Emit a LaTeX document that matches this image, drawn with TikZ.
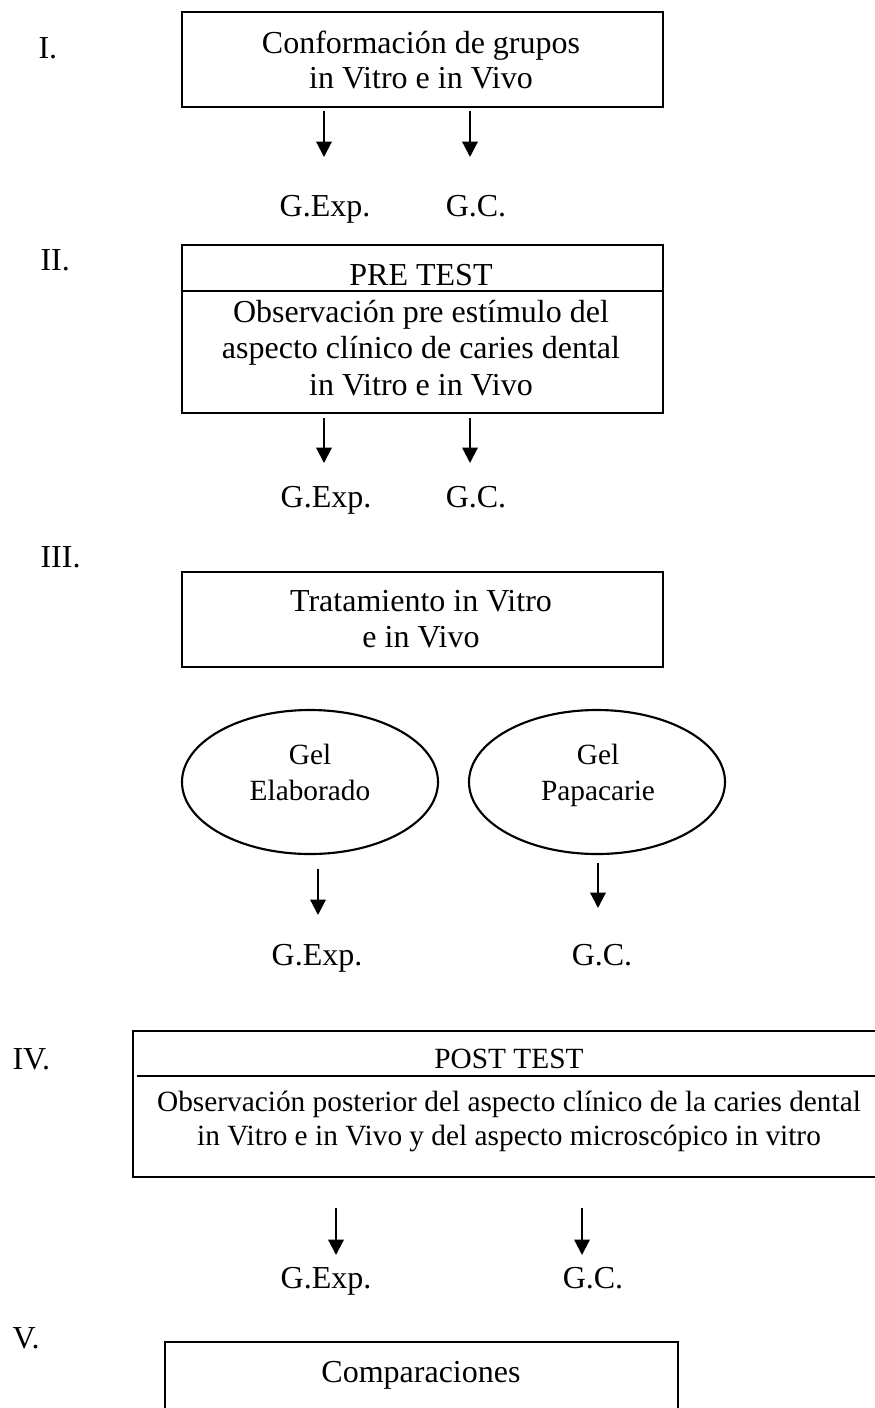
\documentclass[tikz,border=0pt]{standalone}
\usepackage{fontspec}
\setmainfont{Liberation Serif}
\usetikzlibrary{arrows.meta,shapes.geometric,fit,calc}
\begin{document}
\begin{tikzpicture}[x=0.375pt,y=-0.375pt,
  txt/.style={anchor=base,inner sep=0pt,font=\fontsize{12pt}{13.5pt}\selectfont},
  numst/.style={anchor=base west,inner sep=0pt,font=\fontsize{12pt}{13.5pt}\selectfont},
  stxt/.style={anchor=base,inner sep=0pt,font=\fontsize{11pt}{13.5pt}\selectfont},
  boxst/.style={draw,line width=0.8pt,inner sep=0pt,rectangle},
  ovalst/.style={draw,line width=0.8pt,ellipse,inner sep=0pt,minimum width=96pt,minimum height=54pt},
  arr/.style={line width=0.8pt,-{Triangle[width=5.8pt,length=5.8pt]}}]
\clip (0,0) rectangle (875,1408);
\fill[white] (0,0) rectangle (875,1408);

% numerals
\node[numst] (n1) at (38,58) {I.};
\node[numst] (n2) at (40,270) {II.};
\node[numst] (n3) at (40,567) {III.};
\node[numst] (n4) at (12,1069) {IV.};
\node[numst] (n5) at (12,1348) {V.};

% stage I
\node[boxst,fit={(182,12) (663,107)}] (b1) {};
\node[txt] (b1l1) at (421,53) {Conformación de grupos};
\node[txt] (b1l2) at (421,88) {in Vitro e in Vivo};
\node[txt] (g1e) at (325,216) {G.Exp.};
\node[txt] (g1c) at (476,216) {G.C.};
\coordinate (t1) at (324,157);
\coordinate (t2) at (470,157);
\draw[arr,shorten <=1pt] (b1.south -| t1) -- (t1);
\draw[arr,shorten <=1pt] (b1.south -| t2) -- (t2);

% stage II
\node[boxst,fit={(182,245) (663,413)}] (b2) {};
\draw[line width=0.8pt] ($(b2.north west)+(0,47)$) -- ($(b2.north east)+(0,47)$);
\node[txt] (b2h) at (421,285) {PRE TEST};
\node[txt] (b2l1) at (421,322) {Observación pre estímulo del};
\node[txt] (b2l2) at (421,358) {aspecto clínico de caries dental};
\node[txt] (b2l3) at (421,395) {in Vitro e in Vivo};
\node[txt] (g2e) at (326,507) {G.Exp.};
\node[txt] (g2c) at (476,507) {G.C.};
\coordinate (t3) at (324,463);
\coordinate (t4) at (470,463);
\draw[arr,shorten <=1.5pt] (b2.south -| t3) -- (t3);
\draw[arr,shorten <=1.5pt] (b2.south -| t4) -- (t4);

% stage III
\node[boxst,fit={(182,572) (663,667)}] (b3) {};
\node[txt] (b3l1) at (421,611) {Tratamiento in Vitro};
\node[txt] (b3l2) at (421,647) {e in Vivo};
\node[ovalst] (e1) at (310,782) {};
\node[ovalst] (e2) at (597,782) {};
\node[stxt] (e1l1) at (310,764) {Gel};
\node[stxt] (e1l2) at (310,800) {Elaborado};
\node[stxt] (e2l1) at (598,764) {Gel};
\node[stxt] (e2l2) at (598,800) {Papacarie};
\node[txt] (g3e) at (317,965) {G.Exp.};
\node[txt] (g3c) at (602,965) {G.C.};
\coordinate (t5) at (318,915);
\coordinate (t6) at (598,908);
\draw[arr,shorten <=5.25pt] (e1.south -| t5) -- (t5);
\draw[arr,shorten <=3pt] (e2.south -| t6) -- (t6);

% stage IV
\node[boxst,fit={(133,1031) (886,1177)}] (b4) {};
\draw[line width=0.8pt] ($(b4.north west)+(5,46)$) -- ($(b4.north east)+(0,46)$);
\node[stxt] (b4h) at (509,1068) {POST TEST};
\node[stxt] (b4l1) at (509,1111) {Observación posterior del aspecto clínico de la caries dental};
\node[stxt] (b4l2) at (509,1145) {in Vitro e in Vivo y del aspecto microscópico in vitro};
\node[txt] (g4e) at (326,1288) {G.Exp.};
\node[txt] (g4c) at (593,1288) {G.C.};
\coordinate (t7) at (336,1255);
\coordinate (t8) at (582,1255);
\draw[arr,shorten <=11.25pt] (b4.south -| t7) -- (t7);
\draw[arr,shorten <=11.25pt] (b4.south -| t8) -- (t8);

% stage V
\node[boxst,fit={(165,1342) (678,1440)}] (b5) {};
\node[txt] (b5l1) at (421,1382) {Comparaciones};
\end{tikzpicture}
\end{document}
